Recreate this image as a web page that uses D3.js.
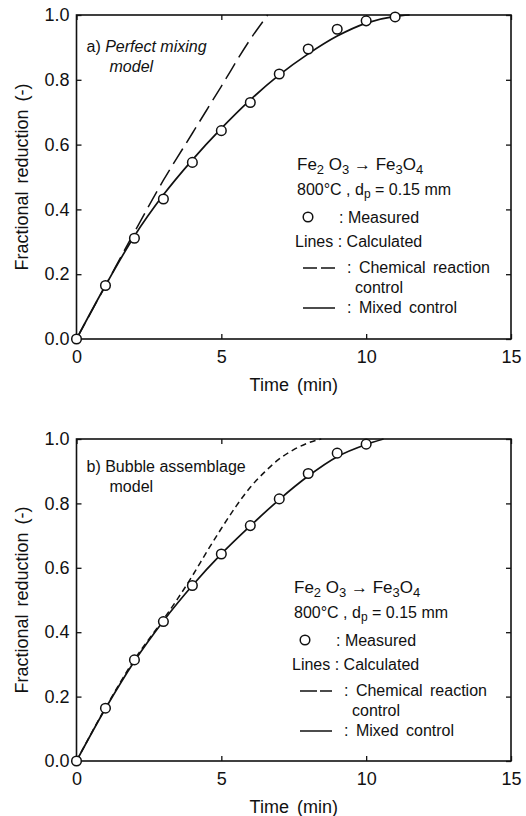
<!DOCTYPE html>
<html>
<head>
<meta charset="utf-8">
<script src="https://cdn.jsdelivr.net/npm/d3@7"></script>
<style>
  body { margin: 0; background: #fff; }
  svg { display: block; font-family: "Liberation Sans", Arial, sans-serif; }
  text { fill: #111; }
</style>
</head>
<body>
<svg id="chart" width="526" height="816"></svg>
<script>
const timeTicks = [0, 5, 10, 15];
const fracTicks = [0, 0.2, 0.4, 0.6, 0.8, 1.0];

// panel a) perfect mixing model
const measTimeA = [0, 1, 2, 3, 4, 5, 6, 7, 8, 9, 10, 11];
const measFracA = [0, 0.165, 0.311, 0.432, 0.545, 0.643, 0.73, 0.818, 0.895, 0.956, 0.982, 0.994];
const mixTimeA = [0, 1, 2, 3, 4, 5, 6, 7, 8, 9, 10, 11, 11.5];
const mixFracA = [0, 0.165, 0.318, 0.445, 0.553, 0.65, 0.738, 0.815, 0.88, 0.935, 0.975, 0.996, 1.0];
const chemTimeA = [0, 1, 2, 3, 4, 5, 6, 6.6];
const chemFracA = [0, 0.165, 0.33, 0.49, 0.635, 0.78, 0.925, 1.0];

// panel b) bubble assemblage model
const measTimeB = [0, 1, 2, 3, 4, 5, 6, 7, 8, 9, 10];
const measFracB = [0, 0.164, 0.314, 0.433, 0.545, 0.643, 0.731, 0.814, 0.893, 0.956, 0.984];
const mixTimeB = [0, 1, 2, 3, 4, 5, 6, 7, 8, 9, 10, 10.6];
const mixFracB = [0, 0.163, 0.31, 0.435, 0.545, 0.643, 0.73, 0.812, 0.885, 0.945, 0.983, 1.0];
const chemTimeB = [0, 1, 2, 3, 3.5, 4, 4.5, 5, 5.5, 6, 6.5, 7, 7.5, 8, 8.45];
const chemFracB = [0, 0.165, 0.315, 0.44, 0.505, 0.575, 0.65, 0.722, 0.79, 0.85, 0.898, 0.938, 0.967, 0.988, 1.0];

const svg = d3.select("#chart");

function zip(xs, ys) {
  return xs.map((x, i) => [x, ys[i]]);
}

function drawPanel(p) {
  const x = d3.scaleLinear().domain([0, 15]).range([p.left, p.right]);
  const y = d3.scaleLinear().domain([0, 1]).range([p.bottom, p.top]);
  const g = svg.append("g");

  // frame
  g.append("rect")
    .attr("x", p.left).attr("y", p.top)
    .attr("width", p.right - p.left).attr("height", p.bottom - p.top)
    .attr("fill", "none").attr("stroke", "#111").attr("stroke-width", 1.6);

  // inward ticks on all sides
  g.append("g").attr("transform", `translate(0,${p.bottom})`)
    .call(d3.axisBottom(x).tickValues(timeTicks).tickSizeInner(-5).tickSizeOuter(0).tickPadding(11).tickFormat(d3.format("d")))
    .call(a => a.select(".domain").remove());
  g.append("g").attr("transform", `translate(0,${p.top})`)
    .call(d3.axisTop(x).tickValues(timeTicks).tickSizeInner(-5).tickSizeOuter(0).tickFormat(""))
    .call(a => a.select(".domain").remove());
  g.append("g").attr("transform", `translate(${p.left},0)`)
    .call(d3.axisLeft(y).tickValues(fracTicks).tickSizeInner(-5).tickSizeOuter(0).tickPadding(7).tickFormat(d3.format(".1f")))
    .call(a => a.select(".domain").remove());
  g.append("g").attr("transform", `translate(${p.right},0)`)
    .call(d3.axisRight(y).tickValues(fracTicks).tickSizeInner(-5).tickSizeOuter(0).tickFormat(""))
    .call(a => a.select(".domain").remove());

  g.selectAll(".tick line").attr("stroke", "#111").attr("stroke-width", 1.3);
  g.selectAll(".tick text")
    .attr("fill", "#111")
    .style("font-family", "'Liberation Sans', Arial, sans-serif")
    .style("font-size", "18px");

  // axis titles
  g.append("text")
    .attr("x", (p.left + p.right) / 2).attr("y", p.bottom + 52)
    .attr("text-anchor", "middle").style("font-size", "18px").style("word-spacing", "3px")
    .text("Time (min)");
  g.append("text")
    .attr("transform", `translate(28,${(p.top + p.bottom) / 2}) rotate(-90)`)
    .attr("text-anchor", "middle").style("font-size", "18px").style("word-spacing", "3px")
    .text("Fractional reduction (-)");

  // curves
  const line = d3.line().x(d => x(d[0])).y(d => y(d[1])).curve(d3.curveMonotoneX);
  g.append("path").datum(zip(p.chemT, p.chemF))
    .attr("d", line).attr("fill", "none").attr("stroke", "#111")
    .attr("stroke-width", 1.5).attr("stroke-dasharray", p.dash);
  g.append("path").datum(zip(p.mixT, p.mixF))
    .attr("d", line).attr("fill", "none").attr("stroke", "#111").attr("stroke-width", 1.7);

  // measured points
  g.selectAll("circle.meas").data(zip(p.measT, p.measF)).enter()
    .append("circle").attr("class", "meas")
    .attr("cx", d => x(d[0])).attr("cy", d => y(d[1])).attr("r", 4.8)
    .attr("fill", "#fff").attr("stroke", "#111").attr("stroke-width", 1.5);

  // panel label
  const lab = g.append("text").attr("x", p.left + 10).attr("y", p.top + p.labY).style("font-size", "16px");
  p.label1.forEach(s => lab.append("tspan").style("font-style", s.italic ? "italic" : "normal").text(s.t));
  g.append("text").attr("x", p.left + 33).attr("y", p.top + p.labY + 20)
    .style("font-size", "16px").style("font-style", p.label2italic ? "italic" : "normal").text("model");

  // legend block
  const lx = p.legX, ly = p.legY;
  const fe = g.append("text").attr("x", lx).attr("y", ly).style("font-size", "17px");
  fe.append("tspan").text("Fe");
  fe.append("tspan").attr("dy", 4).style("font-size", "13px").text("2");
  fe.append("tspan").attr("dy", -4).text(" O");
  fe.append("tspan").attr("dy", 4).style("font-size", "13px").text("3");
  fe.append("tspan").attr("dy", -4).text(" \u2192 Fe");
  fe.append("tspan").attr("dy", 4).style("font-size", "13px").text("3");
  fe.append("tspan").attr("dy", -4).text("O");
  fe.append("tspan").attr("dy", 4).style("font-size", "13px").text("4");

  const cond = g.append("text").attr("x", lx).attr("y", ly + 25).style("font-size", "16px");
  cond.append("tspan").text("800\u00B0C , d");
  cond.append("tspan").attr("dy", 3).style("font-size", "12px").text("p");
  cond.append("tspan").attr("dy", -3).text(" = 0.15 mm");

  g.append("circle").attr("cx", lx + 11).attr("cy", ly + 47).attr("r", 4.8)
    .attr("fill", "#fff").attr("stroke", "#111").attr("stroke-width", 1.5);
  g.append("text").attr("x", lx + 42).attr("y", ly + 53).style("font-size", "16px").text(": Measured");
  g.append("text").attr("x", lx - 2).attr("y", ly + 77).style("font-size", "16px").text("Lines : Calculated");

  g.append("line").attr("x1", lx + 6).attr("x2", lx + 38).attr("y1", ly + 98).attr("y2", ly + 98)
    .attr("stroke", "#111").attr("stroke-width", 1.5).attr("stroke-dasharray", p.legDash);
  g.append("text").attr("x", lx + 50).attr("y", ly + 103).style("font-size", "16px").style("word-spacing", "3px")
    .text(": Chemical reaction");
  g.append("text").attr("x", lx + 58).attr("y", ly + 123).style("font-size", "16px").text("control");
  g.append("line").attr("x1", lx + 6).attr("x2", lx + 38).attr("y1", ly + 138).attr("y2", ly + 138)
    .attr("stroke", "#111").attr("stroke-width", 1.5);
  g.append("text").attr("x", lx + 50).attr("y", ly + 143).style("font-size", "16px").style("word-spacing", "3px")
    .text(": Mixed control");
}

drawPanel({
  left: 76.5, right: 511, top: 15, bottom: 339,
  measT: measTimeA, measF: measFracA, mixT: mixTimeA, mixF: mixFracA, chemT: chemTimeA, chemF: chemFracA,
  dash: "18,7", legDash: "14,4",
  label1: [{ t: "a) " }, { t: "Perfect  mixing", italic: true }], label2italic: true, labY: 37,
  legX: 297, legY: 170
});

drawPanel({
  left: 76.5, right: 511, top: 439, bottom: 761,
  measT: measTimeB, measF: measFracB, mixT: mixTimeB, mixF: mixFracB, chemT: chemTimeB, chemF: chemFracB,
  dash: "6,4", legDash: "17,3,11,0",
  label1: [{ t: "b) Bubble  assemblage" }], label2italic: false, labY: 33,
  legX: 294, legY: 593
});
</script>
</body>
</html>
